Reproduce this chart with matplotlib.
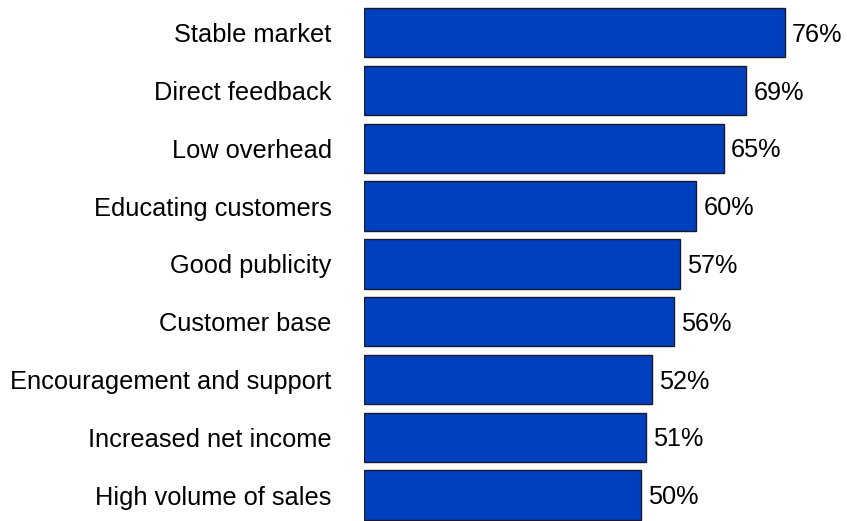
import matplotlib.pyplot as plt

categories = ["Stable market", "Direct feedback", "Low overhead",
              "Educating customers", "Good publicity", "Customer base",
              "Encouragement and support", "Increased net income",
              "High volume of sales"]
values = [76, 69, 65, 60, 57, 56, 52, 51, 50]
value_labels = ["76%", "69%", "65%", "60%", "57%", "56%", "52%", "51%", "50%"]

plt.rcParams['font.family'] = ['Liberation Sans', 'DejaVu Sans']

fig = plt.figure(figsize=(8.47, 5.21), dpi=100)
ax = fig.add_axes([363.7/847, 0, 443.6/847, 1])

pos = list(range(len(categories)))
bars = ax.barh(pos, values, height=0.853, color="#0040BF",
               edgecolor="#1a1a2e", linewidth=1.0)

for b, lab in zip(bars, value_labels):
    ax.annotate(lab, (b.get_width(), b.get_y() + b.get_height()/2),
                xytext=(7, -2), textcoords="offset pixels",
                va="center", ha="left", fontsize=18.2, color="black")

ax.set_xlim(0, 80)
ax.set_ylim(8.448, -0.566)
ax.set_yticks(pos)
ax.set_yticklabels(categories, fontsize=18.3)
ax.tick_params(axis="y", length=0, pad=23)
ax.set_xticks([])
for s in ax.spines.values():
    s.set_visible(False)

fig.savefig("out.png", dpi=100)
